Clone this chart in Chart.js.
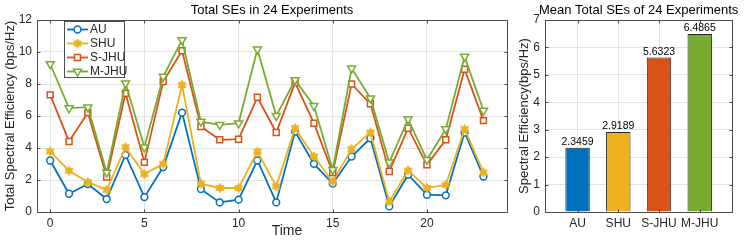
<!DOCTYPE html>
<html>
<head>
<meta charset="utf-8">
<script src="https://cdn.jsdelivr.net/npm/chart.js@4/dist/chart.umd.min.js"></script>
<style>
  html, body { margin: 0; padding: 0; background: #fff; }
  #wrap { position: relative; width: 747px; height: 241px; }
  #lineChart { position: absolute; left: 0; top: 0; }
  #barChart { position: absolute; left: 515px; top: 0; }
</style>
</head>
<body>
<div id="wrap">
  <canvas id="lineChart" width="515" height="241"></canvas>
  <canvas id="barChart" width="232" height="241"></canvas>
</div>
<script>
// experiment index 0..23
const experiments = [0, 1, 2, 3, 4, 5, 6, 7, 8, 9, 10, 11, 12, 13, 14, 15, 16, 17, 18, 19, 20, 21, 22, 23];
const xTicks = [0, 5, 10, 15, 20];
const yTicks = [0, 2, 4, 6, 8, 10, 12];

const seAU   = [3.22, 1.14, 1.75, 0.81, 3.57, 0.93, 2.81, 6.21, 1.43, 0.60, 0.77, 3.22, 0.60, 5.03, 3.01, 1.77, 3.47, 4.61, 0.35, 2.33, 1.08, 1.04, 4.97, 2.22];
const seSHU  = [3.78, 2.58, 1.87, 1.39, 4.05, 2.37, 3.01, 7.94, 1.77, 1.50, 1.50, 3.78, 1.60, 5.24, 3.47, 1.91, 3.93, 4.97, 0.66, 2.60, 1.50, 1.70, 5.18, 2.47];
const seSJHU = [7.32, 4.41, 6.21, 2.18, 7.42, 3.10, 8.15, 10.08, 5.34, 4.51, 4.55, 7.17, 4.97, 8.09, 5.55, 2.47, 8.00, 6.76, 2.53, 5.24, 2.95, 4.51, 8.92, 5.71];
const seMJHU = [9.25, 6.49, 6.55, 2.47, 8.05, 4.05, 8.46, 10.75, 5.65, 5.45, 5.55, 10.17, 6.01, 8.25, 6.63, 2.64, 8.98, 7.11, 3.10, 5.80, 3.26, 5.18, 9.71, 6.34];

const schemes = ['AU', 'SHU', 'S-JHU', 'M-JHU'];
const meanSE = [2.3459, 2.9189, 5.6323, 6.4865];
const meanTicks = [0, 1, 2, 3, 4, 5, 6, 7];

const colors = ['#0072BD', '#EDB120', '#D95319', '#77AC30'];
const FONT = '"Liberation Sans", Arial, sans-serif';
const TEXT = '#262626';
const GRID = '#e3e3e3';
const BOX = '#4d4d4d';

// filled hexagram marker for SHU
function hexagram(color, r) {
  const c = document.createElement('canvas');
  const s = Math.ceil(r * 2 + 4);
  c.width = s; c.height = s;
  const g = c.getContext('2d');
  g.translate(s / 2, s / 2);
  g.beginPath();
  for (let i = 0; i < 12; i++) {
    const a = -Math.PI / 2 + i * Math.PI / 6;
    const rr = i % 2 === 0 ? r : r * 0.58;
    g.lineTo(rr * Math.cos(a), rr * Math.sin(a));
  }
  g.closePath();
  g.fillStyle = color;
  g.fill();
  g.strokeStyle = color;
  g.lineWidth = 1;
  g.stroke();
  return c;
}
const starImg = hexagram(colors[1], 4.6);

const markers = [
  { pointStyle: 'circle', pointRadius: 3.4, rotation: 0 },
  { pointStyle: starImg, pointRadius: 4, rotation: 0 },
  { pointStyle: 'rect', pointRadius: 4.2, rotation: 0 },
  { pointStyle: 'triangle', pointRadius: 4.6, rotation: 180 }
];
const series = [seAU, seSHU, seSJHU, seMJHU];

function drawMarker(ctx, i, x, y) {
  const m = markers[i];
  ctx.save();
  ctx.strokeStyle = colors[i];
  ctx.fillStyle = '#fff';
  ctx.lineWidth = 1.5;
  ctx.beginPath();
  if (i === 0) {
    ctx.arc(x, y, m.pointRadius, 0, Math.PI * 2);
    ctx.fill(); ctx.stroke();
  } else if (i === 1) {
    ctx.drawImage(starImg, x - starImg.width / 2, y - starImg.height / 2);
  } else if (i === 2) {
    const h = m.pointRadius * Math.SQRT1_2;
    ctx.rect(x - h, y - h, 2 * h, 2 * h);
    ctx.fill(); ctx.stroke();
  } else {
    const r = m.pointRadius;
    ctx.moveTo(x - r * 0.87, y - r * 0.5);
    ctx.lineTo(x + r * 0.87, y - r * 0.5);
    ctx.lineTo(x, y + r);
    ctx.closePath();
    ctx.fill(); ctx.stroke();
  }
  ctx.restore();
}

// frame around plot area with inward ticks, plus title, like a boxed axes
function boxPlugin(title) {
  return {
    id: 'box',
    afterDraw(chart) {
      const { ctx, chartArea: a } = chart;
      const xs = chart.scales.x, ys = chart.scales.y;
      const L = Math.round(a.left) + 0.5, T = Math.round(a.top) + 0.5;
      const R = L + Math.round(a.right - a.left), B = T + Math.round(a.bottom - a.top);
      ctx.save();
      ctx.strokeStyle = BOX;
      ctx.lineWidth = 1;
      ctx.strokeRect(L, T, R - L, B - T);
      ctx.beginPath();
      xs.ticks.forEach(t => {
        const px = Math.round(xs.getPixelForValue(t.value)) + 0.5;
        ctx.moveTo(px, B); ctx.lineTo(px, B - 3);
        ctx.moveTo(px, T); ctx.lineTo(px, T + 3);
      });
      ys.ticks.forEach(t => {
        const py = Math.round(ys.getPixelForValue(t.value)) + 0.5;
        ctx.moveTo(L, py); ctx.lineTo(L + 3, py);
        ctx.moveTo(R, py); ctx.lineTo(R - 3, py);
      });
      ctx.stroke();
      ctx.fillStyle = '#000';
      ctx.font = '13px ' + FONT;
      ctx.textAlign = 'center';
      ctx.textBaseline = 'middle';
      ctx.fillText(title, (a.left + a.right) / 2, 10);
      ctx.restore();
    }
  };
}

const lineLegend = {
  id: 'lineLegend',
  afterDraw(chart) {
    const ctx = chart.ctx;
    ctx.save();
    ctx.fillStyle = '#fff';
    ctx.strokeStyle = BOX;
    ctx.lineWidth = 1;
    ctx.fillRect(64.5, 21.5, 60, 56);
    ctx.strokeRect(64.5, 21.5, 60, 56);
    ctx.font = '12px ' + FONT;
    ctx.textBaseline = 'middle';
    ctx.textAlign = 'left';
    schemes.forEach((name, i) => {
      const y = 29.5 + i * 14;
      ctx.strokeStyle = colors[i];
      ctx.lineWidth = 1.8;
      ctx.beginPath();
      ctx.moveTo(67, y);
      ctx.lineTo(88, y);
      ctx.stroke();
      drawMarker(ctx, i, 77.5, y);
      ctx.fillStyle = TEXT;
      ctx.fillText(name, 90, y + 0.5);
    });
    // x axis title
    ctx.font = '14px ' + FONT;
    ctx.fillStyle = TEXT;
    ctx.textAlign = 'center';
    ctx.fillText('Time', 287, 231);
    ctx.restore();
  }
};

new Chart(document.getElementById('lineChart'), {
  type: 'line',
  data: {
    datasets: series.map((s, i) => ({
      label: schemes[i],
      data: experiments.map((x, k) => ({ x: x, y: s[k] })),
      borderColor: colors[i],
      backgroundColor: i === 1 ? colors[1] : '#fff',
      borderWidth: 1.8,
      pointBorderWidth: 1.5,
      pointStyle: markers[i].pointStyle,
      pointRadius: markers[i].pointRadius,
      rotation: markers[i].rotation,
      tension: 0,
      order: 3 - i
    }))
  },
  options: {
    responsive: false,
    animation: false,
    devicePixelRatio: 1,
    layout: { padding: { top: 20, right: 8, left: 0, bottom: 0 } },
    plugins: { legend: { display: false }, tooltip: { enabled: false }, title: { display: false } },
    scales: {
      x: {
        type: 'linear',
        min: -0.7,
        max: 24.25,
        afterBuildTicks: s => { s.ticks = xTicks.map(v => ({ value: v })); },
        afterFit: s => { s.height = 29; },
        grid: { color: GRID, drawTicks: false },
        border: { display: false },
        ticks: { color: TEXT, font: { family: FONT, size: 12 }, padding: 4, maxRotation: 0 }
      },
      y: {
        min: 0,
        max: 12,
        afterBuildTicks: s => { s.ticks = yTicks.map(v => ({ value: v })); },
        afterFit: s => { s.width = 37; },
        grid: { color: GRID, drawTicks: false },
        border: { display: false },
        ticks: { color: TEXT, font: { family: FONT, size: 12 }, padding: 5 },
        title: {
          display: true,
          text: 'Total Spectral Efficiency (bps/Hz)',
          color: TEXT,
          font: { family: FONT, size: 13 },
          padding: { top: 3, bottom: 0 }
        }
      }
    }
  },
  plugins: [boxPlugin('Total SEs in 24 Experiments'), lineLegend]
});

const barValues = {
  id: 'barValues',
  afterDatasetsDraw(chart) {
    const ctx = chart.ctx;
    const meta = chart.getDatasetMeta(0);
    ctx.save();
    ctx.fillStyle = '#000';
    ctx.font = '10.5px ' + FONT;
    ctx.textAlign = 'center';
    ctx.textBaseline = 'bottom';
    meta.data.forEach((bar, i) => {
      ctx.fillText(meanSE[i].toFixed(4), bar.x, bar.y - 0.5);
    });
    ctx.restore();
  }
};

new Chart(document.getElementById('barChart'), {
  type: 'bar',
  data: {
    datasets: [{
      data: meanSE.map((v, i) => ({ x: i + 1, y: v })),
      backgroundColor: colors,
      borderColor: '#262626',
      borderWidth: 1,
      barPercentage: 0.6,
      categoryPercentage: 1
    }]
  },
  options: {
    responsive: false,
    animation: false,
    devicePixelRatio: 1,
    layout: { padding: { top: 20, right: 14.7, left: 0, bottom: 0 } },
    plugins: { legend: { display: false }, tooltip: { enabled: false } },
    scales: {
      x: {
        type: 'linear',
        min: 0.2,
        max: 4.8,
        offset: false,
        afterBuildTicks: s => { s.ticks = schemes.map((n, i) => ({ value: i + 1 })); },
        afterFit: s => { s.height = 29; },
        grid: { color: GRID, drawTicks: false, offset: false },
        border: { display: false },
        ticks: {
          color: TEXT,
          font: { family: FONT, size: 12 },
          padding: 4,
          maxRotation: 0,
          callback: v => schemes[v - 1]
        }
      },
      y: {
        min: 0,
        max: 7,
        afterBuildTicks: s => { s.ticks = meanTicks.map(v => ({ value: v })); },
        afterFit: s => { s.width = 30; },
        grid: { color: GRID, drawTicks: false },
        border: { display: false },
        ticks: { color: TEXT, font: { family: FONT, size: 12 }, padding: 5 },
        title: {
          display: true,
          text: 'Spectral Efficiency(bps/Hz)',
          color: TEXT,
          font: { family: FONT, size: 13 },
          padding: { top: 2, bottom: 0 }
        }
      }
    }
  },
  plugins: [boxPlugin('Mean Total SEs of 24 Experiments'), barValues]
});
</script>
</body>
</html>
